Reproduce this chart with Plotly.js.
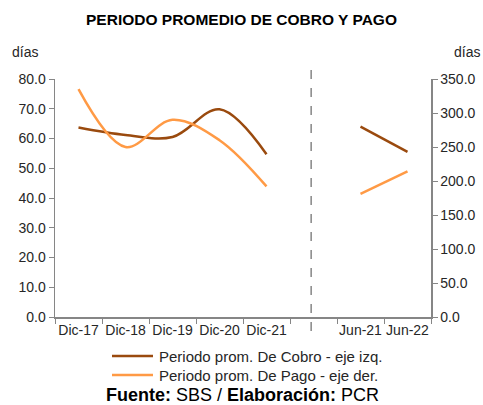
<!DOCTYPE html>
<html>
<head>
<meta charset="utf-8">
<script src="https://cdn.plot.ly/plotly-3.0.1.min.js"></script>
<style>html,body{margin:0;padding:0;background:#fff;}#chart{width:483px;height:405px;}</style>
</head>
<body>
<div id="chart"></div>
<script>
var categories = ['Dic-17', 'Dic-18', 'Dic-19', 'Dic-20', 'Dic-21', ' ', 'Jun-21', 'Jun-22'];
var cobro = [63.7, 61.2, 60.5, 69.8, 54.7, null, 64.0, 55.5];
var pago = [335, 250, 290, 260, 192, null, 181, 214];
var seriesNames = ['Periodo prom. De Cobro - eje izq.', 'Periodo prom. De Pago - eje der.'];
var seriesColors = ['#9A4A0E', '#FF9A45'];
var leftTicks = [0, 10, 20, 30, 40, 50, 60, 70, 80];
var rightTicks = [0, 50, 100, 150, 200, 250, 300, 350];

var F = 'Liberation Sans, Arial, sans-serif';
var axisCol = '#868686';
var txtCol = '#262626';

var traces = [
  {x: categories, y: cobro, name: seriesNames[0], type: 'scatter', mode: 'lines',
   line: {color: seriesColors[0], width: 2.5, shape: 'spline', smoothing: 1}, connectgaps: false, yaxis: 'y'},
  {x: categories, y: pago, name: seriesNames[1], type: 'scatter', mode: 'lines',
   line: {color: seriesColors[1], width: 2.5, shape: 'spline', smoothing: 1}, connectgaps: false, yaxis: 'y2'}
];

// plot area in pixels: left 55, right 431, top 79, bottom 317
function px(x) { return (x - 55) / 376; }
function py(y) { return (317 - y) / 238; }

var shapes = [
  {type: 'line', xref: 'x', yref: 'paper', x0: 4.95, x1: 4.95, y0: py(70), y1: py(333),
   line: {color: axisCol, width: 1.5, dash: 'dash'}}
];
var annotations = [
  {text: 'días', xref: 'paper', yref: 'paper', x: px(10), y: py(52),
   xanchor: 'left', yanchor: 'middle', showarrow: false, font: {family: F, size: 14, color: txtCol}},
  {text: 'días', xref: 'paper', yref: 'paper', x: px(452), y: py(52),
   xanchor: 'left', yanchor: 'middle', showarrow: false, font: {family: F, size: 14, color: txtCol}},
  {text: '<b>Fuente:</b> SBS / <b>Elaboración:</b> PCR', xref: 'paper', yref: 'paper',
   x: px(242), y: py(395), xanchor: 'center', yanchor: 'middle', showarrow: false,
   font: {family: F, size: 18, color: '#000'}}
];
// legend (drawn manually so it does not push the plot margins)
var legendRows = [356, 375];
seriesNames.forEach(function(name, i) {
  shapes.push({type: 'line', xref: 'paper', yref: 'paper', x0: px(112), x1: px(153),
               y0: py(legendRows[i]), y1: py(legendRows[i]), line: {color: seriesColors[i], width: 2.5}});
  annotations.push({text: name, xref: 'paper', yref: 'paper', x: px(157), y: py(legendRows[i]),
                    xanchor: 'left', yanchor: 'middle', showarrow: false,
                    font: {family: F, size: 15, color: txtCol}});
});

var layout = {
  width: 483, height: 405,
  margin: {l: 55, r: 52, t: 79, b: 88},
  paper_bgcolor: '#fff', plot_bgcolor: '#fff',
  showlegend: false,
  font: {family: F, color: txtCol, size: 14},
  title: {text: '<b>PERIODO PROMEDIO DE COBRO Y PAGO</b>', x: 0.5, xanchor: 'center',
          y: 1 - 20 / 405, yanchor: 'middle', font: {family: F, size: 15.5, color: '#000'}},
  xaxis: {type: 'category', categoryorder: 'array', categoryarray: categories, range: [-0.5, 7.5],
          tickson: 'boundaries', ticks: 'outside', ticklen: 5, tickcolor: axisCol, tickwidth: 1,
          showline: true, linecolor: axisCol, linewidth: 1.5, showgrid: false, zeroline: false,
          tickfont: {family: F, size: 14, color: txtCol}, tickangle: 0, automargin: false},
  yaxis: {range: [0, 80], tickmode: 'array', tickvals: leftTicks,
          ticktext: leftTicks.map(function(v){return v.toFixed(1);}), automargin: false,
          ticks: 'outside', ticklen: 5, tickcolor: axisCol, showline: true, linecolor: axisCol, linewidth: 1.5,
          showgrid: false, zeroline: false, tickfont: {family: F, size: 14, color: txtCol}},
  yaxis2: {range: [0, 350], overlaying: 'y', side: 'right', tickmode: 'array', tickvals: rightTicks,
          ticktext: rightTicks.map(function(v){return v.toFixed(1);}), automargin: false,
          ticks: 'outside', ticklen: 5, tickcolor: axisCol, showline: true, linecolor: axisCol, linewidth: 1.5,
          showgrid: false, zeroline: false, tickfont: {family: F, size: 14, color: txtCol}},
  shapes: shapes,
  annotations: annotations
};

Plotly.newPlot('chart', traces, layout, {displayModeBar: false, staticPlot: true});
</script>
</body>
</html>
